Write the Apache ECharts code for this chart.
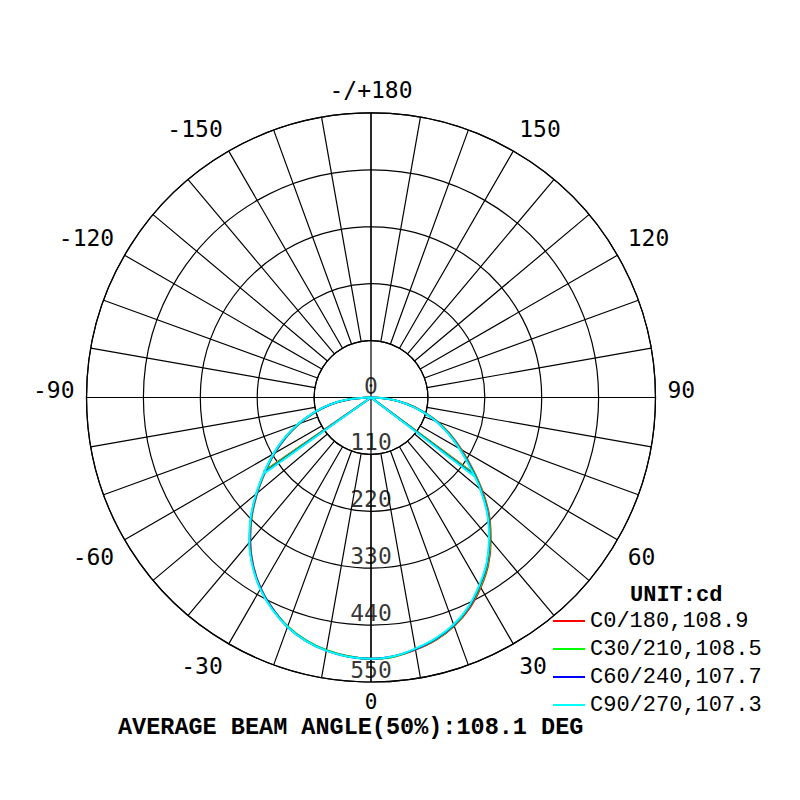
<!DOCTYPE html>
<html>
<head>
<meta charset="utf-8">
<script src="https://cdn.jsdelivr.net/npm/echarts@6/dist/echarts.min.js"></script>
<style>html,body{margin:0;padding:0;background:#fff}#c{width:800px;height:800px}</style>
</head>
<body>
<div id="c"></div>
<script>
// ---- data ----
const gamma = [-90,-85,-80,-75,-70,-65,-60,-55,-50,-45,-40,-35,-30,-25,-20,-15,-10,-5,0,5,10,15,20,25,30,35,40,45,50,55,60,65,70,75,80,85,90];
const c0_180  = [0,43,80,113,147,181,215,249,287,326,363,397,426,450,471,486,496,502,505,503,495,485,470,450,424,395,360,323,281,239,202,169,137,103,70,36,0];
const c30_210 = [0,44,81,114,148,182,216,250,288,327,364,398,427,451,471,486,496,502,505,503,494,484,469,448,422,393,358,321,279,237,200,167,135,102,69,36,0];
const c60_240 = [0,44,81,115,149,183,217,251,289,328,365,398,427,451,472,487,497,503,505,502,494,483,468,447,420,391,356,319,277,235,198,166,134,101,68,35,0];
const c90_270 = [0,45,82,116,150,184,218,252,290,329,366,399,428,452,472,487,497,503,505,502,493,482,467,446,419,390,355,318,276,233,197,165,133,100,68,35,0];
const planeNames = ['C0/180','C30/210','C60/240','C90/270'];
const beamAngles = [108.9,108.5,107.7,107.3];
const halfLeft = [55.4,55.2,54.8,54.6];
const halfRight = [53.5,53.3,52.9,52.7];
const halfIntensity = [252,252,252,252];
const ringTicks = [0,110,220,330,440,550];
const unitText = 'UNIT:cd';
const titleText = 'AVERAGE BEAM ANGLE(50%):108.1 DEG';
// ---- styles ----
const colors = ['#ff0000','#00ff00','#0000ff','#00ffff'];
const intensities = [c0_180, c30_210, c60_240, c90_270];
const CENTER = [371, 397.5];
const R = 284.5;
const R0 = R * ringTicks[1] / ringTicks[ringTicks.length - 1];
const LBL = {fontFamily: 'DejaVu Sans Mono', fontSize: 23, color: '#000'};
const MONO = 'Liberation Mono';
const GRID = {color: '#000', width: 1.2};

const chart = echarts.init(document.getElementById('c'), null, {renderer: 'svg'});

const lineSeries = [];
planeNames.forEach((n, k) => {
  const vals = intensities[k];
  const name = n + ',' + beamAngles[k];
  const base = {
    type: 'line', name: name,
    coordinateSystem: 'polar', polarIndex: 1,
    symbol: 'none', showSymbol: false,
    color: colors[k],
    lineStyle: {width: 2, color: colors[k]},
    itemStyle: {color: colors[k]},
    z: 3 + k, animation: false
  };
  // intensity curve
  lineSeries.push(Object.assign({}, base, {
    data: gamma.map((g, i) => [vals[i], g]),
    smooth: 0.4
  }));
  // 50% beam-angle lines from centre
  lineSeries.push(Object.assign({}, base, {
    data: [[halfIntensity[k], halfRight[k]], [0, 0], [halfIntensity[k], -halfLeft[k]]],
    smooth: false
  }));
});

const ringLabelSeries = {
  type: 'scatter', coordinateSystem: 'polar', polarIndex: 1,
  data: ringTicks.map(v => [v, 0]),
  symbolSize: 1, itemStyle: {color: 'rgba(0,0,0,0)'},
  label: {show: true, position: 'top', distance: 0, formatter: p => String(p.value[0]),
          fontFamily: LBL.fontFamily, fontSize: LBL.fontSize, color: '#000'},
  silent: true, z: 10, animation: false
};

const legendNames = planeNames.map((n, k) => n + ',' + beamAngles[k]);

const option = {
  backgroundColor: '#fff',
  animation: false,
  title: [
    {text: titleText, left: 118, top: 717, padding: 0,
     textStyle: {fontFamily: MONO, fontSize: 23.5, lineHeight: 20, fontWeight: 'bold', color: '#000'}},
    {text: unitText, left: 630, top: 584, padding: 0,
     textStyle: {fontFamily: MONO, fontSize: 22, fontWeight: 'bold', color: '#000'}}
  ],
  legend: {
    orient: 'vertical', left: 553, top: 610, padding: 0,
    icon: 'rect', itemWidth: 32, itemHeight: 2, itemGap: 6,
    textStyle: {fontFamily: MONO, fontSize: 22, color: '#000'},
    data: legendNames
  },
  polar: [
    {center: CENTER, radius: [R0, R]},
    {center: CENTER, radius: [0, R]}
  ],
  angleAxis: [
    {
      polarIndex: 0, type: 'value', min: -180, max: 180, interval: 10,
      startAngle: 90, clockwise: false,
      axisLine: {show: true, lineStyle: GRID},
      axisTick: {show: false},
      splitLine: {show: true, lineStyle: GRID},
      axisLabel: {
        show: true, margin: 12,
        fontFamily: LBL.fontFamily, fontSize: LBL.fontSize, color: '#000',
        formatter: v => {
          if (v % 30 !== 0) return '';
          if (v === -180) return '-/+180';
          if (v === 180) return '';
          if (v === 0) return '{z|0}';
          if (Math.abs(v) === 90) return '{h|' + v + '}';
          return String(v);
        },
        rich: {
          h: {fontFamily: LBL.fontFamily, fontSize: LBL.fontSize, color: '#000', padding: [0, 0, 15, 0]},
          z: {fontFamily: LBL.fontFamily, fontSize: 21, color: '#000', lineHeight: 14, padding: [2, 0, 0, 0]}
        }
      }
    },
    {
      polarIndex: 1, type: 'value', min: -180, max: 180, interval: 90,
      startAngle: 90, clockwise: false,
      axisLine: {show: false}, axisTick: {show: false}, axisLabel: {show: false},
      splitLine: {show: true, lineStyle: GRID}
    }
  ],
  radiusAxis: [
    {
      polarIndex: 0, type: 'value', min: ringTicks[1], max: ringTicks[ringTicks.length - 1], interval: 110,
      axisLine: {show: false}, axisTick: {show: false}, axisLabel: {show: false},
      splitLine: {show: true, lineStyle: GRID}
    },
    {
      polarIndex: 1, type: 'value', min: 0, max: ringTicks[ringTicks.length - 1],
      axisLine: {show: false}, axisTick: {show: false}, axisLabel: {show: false},
      splitLine: {show: false}
    }
  ],
  series: lineSeries.concat([ringLabelSeries])
};
chart.setOption(option);
</script>
</body>
</html>
